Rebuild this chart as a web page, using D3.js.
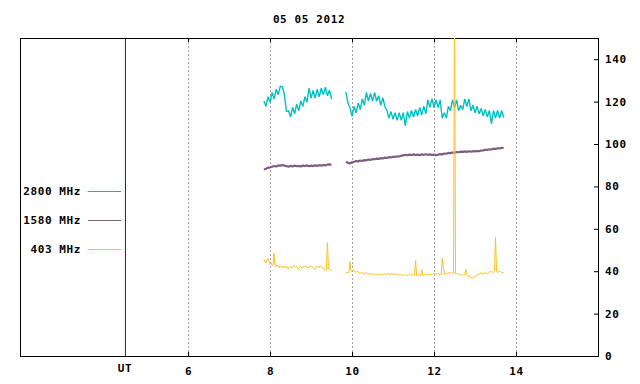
<!DOCTYPE html>
<html>
<head>
<meta charset="utf-8">
<script src="https://cdn.jsdelivr.net/npm/d3@7"></script>
<style>
  body { margin: 0; background: #fff; }
  text { font-family: "DejaVu Sans Mono", monospace; font-weight: bold; font-size: 11px; letter-spacing: 0.6px; }
</style>
</head>
<body>
<div id="chart"></div>
<script>
//Chart values
var chartTitle = "05 05 2012";
var seriesNames = ["2800 MHz", "1580 MHz", "403 MHz"];
var seriesColours = ["#00c0c0", "#7f5f80", "#ffc020"];
var xTicks = [6, 8, 10, 12, 14];
var yTicks = [0, 20, 40, 60, 80, 100, 120, 140];
var utHour = 4.46;

//two observing runs (start hour), sample step in hours per series
var run1Start = 7.85, run2Start = 9.85;
var step2800 = 0.05, step1580 = 0.05, step403 = 0.025;

var flux2800Run1 = [120.3,117.7,122.3,119.7,124.3,121.2,125.8,123.2,127.3,127,
    123.3,115.2,115.8,112.7,117.3,114.2,118.8,115.7,120.3,117.7,
    122.3,119.7,126.3,121.7,125.3,121.7,125.8,122.2,126.3,123.2,
    126.8,122.7,125.3,121.2];
var flux2800Run2 = [124.5,119.5,117,113,117.8,114.7,119.3,116.2,121.3,118.2,
    124.3,120.2,123.8,120.2,124.3,120.2,122.8,118.2,121.8,117.7,
    115.8,112.2,115.3,111.7,114.8,111.2,114.8,111.2,114.8,108.5,
    115.3,112.2,115.8,112.7,116.3,113.2,117.3,113.7,117.8,114.2,
    120.8,117.2,121.3,117.2,120.8,117.2,120.8,112.2,114.8,112.2,
    117.8,115.7,120.8,117.2,120.8,115.7,118.3,116.2,121.3,117.7,
    121.3,115.7,118.3,114.7,117.8,114.2,116.8,113.2,116.3,112.7,
    115.8,109.5,115.8,112.2,115.8,112.2,115.8,112.5];

var flux1580Run1 = [88,88.3,88.8,89,89.3,89.6,89.4,89.9,89.7,90.1,89.8,89.6,89.3,89.7,89.4,89.8,89.5,89.7,89.4,89.8,
    89.6,89.9,89.5,89.8,89.6,89.9,89.7,90,89.8,90.1,89.9,90.3,90.4,90.2];
var flux1580Run2 = [91.5,91.2,90.8,91.4,91.6,92.0,91.8,92.2,92.0,92.4,
    92.3,92.7,92.5,92.9,92.8,93.1,93.0,93.3,93.2,93.6,
    93.4,93.8,93.7,94.0,93.9,94.2,94.1,94.5,94.6,94.9,
    94.7,95.0,94.8,95.1,94.8,95.0,94.7,95.1,94.9,95.2,
    94.9,95.1,94.8,95.0,94.7,95.0,95.2,95.1,95.5,95.4,
    95.8,95.7,96.0,95.9,96.2,96.1,96.4,96.3,96.5,96.3,
    96.6,96.4,96.6,96.5,96.7,96.6,96.9,97.0,97.3,97.2,
    97.5,97.4,97.8,97.7,98.0,97.9,98.2,98.0];

var flux403Run1 = [45.5,44.5,44,45,46,45,43.5,44,42.5,43,
    48.5,42,42.5,43,42,41.5,42.5,42.2,41.5,42.5,
    41.5,42,42.5,41.5,41,42,42.3,41.5,41.8,42.5,
    42.5,42,42.2,41.5,41,42,42.3,41.5,41.7,42.5,
    42.5,42,42.2,41.5,41.7,42.5,42.3,42,41.8,41,
    41,42,42.5,42,41.8,42.5,42.2,41.5,41.7,40.5,
    40.5,41,53.5,41,40.8,40.5,40.3];
var flux403Run2 = [39,39.5,39.3,39.6,44.5,40,40.2,40.5,40.3,39.5,
    39.5,40,39.8,39,39.2,39.5,39.3,38.8,38.9,39.2,
    39.2,38.6,38.8,38.9,38.7,38.4,38.5,38.7,38.6,38.3,
    38.3,38.6,38.5,38.2,38.3,38.5,38.4,38.8,38.7,38.4,
    38.4,39,38.8,38.6,38.7,38.8,38.6,38.3,38.4,38.6,
    38.6,38.1,38.2,38.4,38.3,38,38.1,38.3,38.2,38,
    38,38.4,38.3,38.1,38.2,38.2,38.1,38.3,45,38,
    38,38.3,38.2,38,40.8,38,38.1,38.4,38.3,38.2,
    38.2,38.6,38.5,38.3,38.4,38.9,38.8,38.6,38.7,39,
    39,38.4,38.5,38.6,46,42.5,38.5,39.2,39.1,38.8,
    38.8,39.5,39.3,39,39.1,39.2,170,39,38.9,38.8,
    38.8,38.2,38.3,38,38.1,38.4,38.3,41,38.5,37.8,
    37.8,37.2,37.3,36.8,36.9,37.5,37.4,38,37.9,38.6,
    38.6,39.2,39.1,38.7,38.8,39.3,39.2,38.8,38.9,39.5,
    39.5,40,39.8,39.4,39.5,40.2,56,40.2,39.5,39.6,
    40,39.8,39.3,39.4,39.5];

var seriesRuns = [
    {step: step2800, runs: [flux2800Run1, flux2800Run2], width: 1.4},
    {step: step1580, runs: [flux1580Run1, flux1580Run2], width: 2.2},
    {step: step403, runs: [flux403Run1, flux403Run2], width: 1}
];

//Set some initial values
var width = 640,
    height = 384,
    plotLeft = 20, plotRight = 598, plotTop = 38, plotBottom = 356;

var svg = d3.select("#chart").append("svg")
    .attr("width", width)
    .attr("height", height);

var x = d3.scaleLinear().domain([1.9, 16]).range([plotLeft, plotRight]);
var y = d3.scaleLinear().domain([0, 150]).range([plotBottom, plotTop]);

svg.append("clipPath").attr("id", "plotClip")
  .append("rect")
    .attr("x", plotLeft).attr("y", plotTop)
    .attr("width", plotRight - plotLeft).attr("height", plotBottom - plotTop);

//Grid lines
svg.append("g").selectAll("line")
    .data(xTicks)
    .enter().append("line")
    .attr("x1", function(d) { return x(d) + 0.5; })
    .attr("x2", function(d) { return x(d) + 0.5; })
    .attr("y1", plotTop)
    .attr("y2", plotBottom)
    .attr("stroke", "#a0a0a0")
    .attr("stroke-dasharray", "2,2");

//Axes
svg.append("g")
    .attr("transform", "translate(0," + plotBottom + ")")
    .call(d3.axisBottom(x).tickValues(xTicks).tickSize(-4).tickPadding(11).tickFormat(d3.format("d")));
svg.append("g")
    .attr("transform", "translate(0," + plotTop + ")")
    .call(d3.axisTop(x).tickValues(xTicks).tickSize(-4).tickFormat(""));
svg.append("g")
    .attr("transform", "translate(" + plotRight + ",0)")
    .call(d3.axisRight(y).tickValues(yTicks).tickSize(-4).tickPadding(7));
svg.selectAll(".domain").remove();
svg.selectAll(".tick text")
    .attr("fill", "#000")
    .style("font-family", "DejaVu Sans Mono, monospace")
    .style("font-size", "11px");
svg.selectAll(".tick line").attr("stroke", "#000");

//UT divider
svg.append("line")
    .attr("x1", x(utHour) + 0.5).attr("x2", x(utHour) + 0.5)
    .attr("y1", plotTop).attr("y2", plotBottom)
    .attr("stroke", "#800000");
svg.append("text")
    .attr("x", x(utHour))
    .attr("y", 372)
    .attr("text-anchor", "middle")
    .text("UT");

//Frame
svg.append("rect")
    .attr("x", plotLeft + 0.5).attr("y", plotTop + 0.5)
    .attr("width", plotRight - plotLeft).attr("height", plotBottom - plotTop)
    .attr("fill", "none")
    .attr("stroke", "#000");

//Title
svg.append("text")
    .attr("x", (plotLeft + plotRight) / 2)
    .attr("y", 23)
    .attr("text-anchor", "middle")
    .text(chartTitle);

//Create the lines
var line = d3.line()
    .x(function(d) { return x(d.hour); })
    .y(function(d) { return y(d.value); });

var plot = svg.append("g").attr("clip-path", "url(#plotClip)");
seriesRuns.forEach(function(series, s) {
    [run1Start, run2Start].forEach(function(start, r) {
        var pts = series.runs[r].map(function(v, i) { return {hour: start + i * series.step, value: v}; });
        plot.append("path")
            .datum(pts)
            .attr("fill", "none")
            .attr("stroke", seriesColours[s])
            .attr("stroke-width", series.width)
            .attr("stroke-linejoin", "bevel")
            .attr("d", line);
    });
});

//Legend
var legend = svg.append("g").selectAll("g")
    .data(d3.range(seriesNames.length))
    .enter().append("g")
    .attr("transform", function(d) { return "translate(0," + (191.5 + d * 29) + ")"; });
legend.append("text")
    .attr("x", 81)
    .attr("dy", "0.35em")
    .attr("text-anchor", "end")
    .text(function(d) { return seriesNames[d]; });
legend.append("line")
    .attr("x1", 88).attr("x2", 121)
    .attr("stroke", function(d) { return seriesColours[d]; });
</script>
</body>
</html>
